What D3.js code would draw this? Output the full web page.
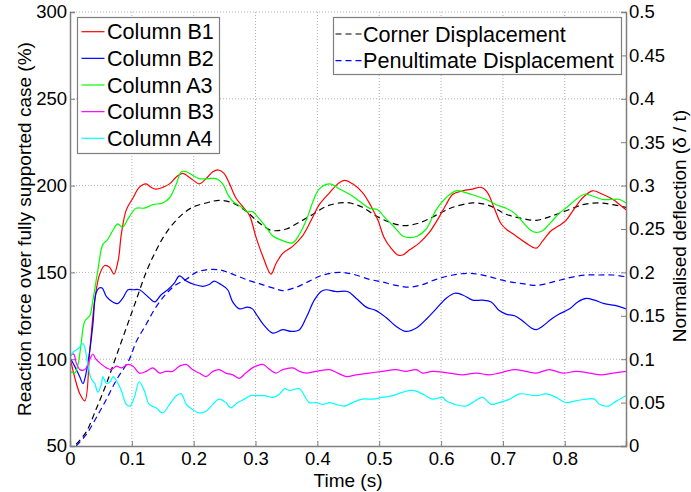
<!DOCTYPE html>
<html><head><meta charset="utf-8">
<script src="https://cdnjs.cloudflare.com/ajax/libs/d3/7.8.5/d3.min.js"></script>
<style>body{margin:0;background:#fff}svg{display:block;font-family:"Liberation Sans",Arial,sans-serif}</style>
</head><body><svg id="c" width="691" height="492"></svg>
<script>
// ---- data ----
const seriesNames = ["Column B1","Column B2","Column A3","Column B3","Column A4"];
const dispNames = ["Corner Displacement","Penultimate Displacement"];
const xTicks = [0,0.1,0.2,0.3,0.4,0.5,0.6,0.7,0.8];
const yLeftTicks = [50,100,150,200,250,300];
const yRightTicks = [0,0.05,0.1,0.15,0.2,0.25,0.3,0.35,0.4,0.45,0.5];

const columnB1 = [[0,101],[0.008,89],[0.016,80],[0.024,76],[0.032,105],[0.04,134],[0.048,149],[0.056,154],[0.064,153],[0.071,149],[0.078,157],[0.083,172],[0.091,186],[0.102,193],[0.112,199],[0.123,201],[0.131,199],[0.139,198],[0.15,199],[0.161,201],[0.172,205],[0.182,207],[0.196,204],[0.209,201],[0.22,204],[0.231,208],[0.24,209],[0.249,207],[0.258,201],[0.268,193],[0.279,188],[0.29,183],[0.301,170],[0.312,159],[0.325,149],[0.333,155],[0.344,161],[0.36,165],[0.376,171],[0.39,180],[0.403,189],[0.42,196],[0.433,201],[0.444,203],[0.457,201],[0.473,196],[0.487,188],[0.498,180],[0.508,170],[0.519,164],[0.53,160],[0.538,160],[0.549,163],[0.565,167],[0.581,173],[0.597,182],[0.608,189],[0.619,195],[0.635,197],[0.651,198],[0.665,199],[0.675,196],[0.686,187],[0.697,178],[0.705,175],[0.721,171],[0.737,167],[0.754,164],[0.764,168],[0.778,174],[0.791,177],[0.802,180],[0.816,187],[0.829,193],[0.845,197],[0.861,195],[0.878,192],[0.889,189],[0.899,186]];
const columnB2 = [[0,101],[0.0075,96],[0.0156,90],[0.021,86],[0.026,92],[0.032,105],[0.037,120],[0.042,138],[0.047,141],[0.052,141],[0.059,136],[0.069,133],[0.077,132],[0.085,135],[0.094,140],[0.102,140],[0.112,140],[0.126,136],[0.137,133],[0.147,137],[0.158,140],[0.169,144],[0.177,148],[0.188,145],[0.201,143],[0.215,142],[0.225,143],[0.233,145],[0.244,143],[0.255,140],[0.263,133],[0.274,129],[0.287,130],[0.295,129],[0.301,126],[0.315,119],[0.328,115],[0.344,117],[0.358,116],[0.371,117],[0.382,124],[0.395,134],[0.406,139],[0.414,140],[0.43,139],[0.449,139],[0.463,135],[0.479,130],[0.495,128],[0.511,124],[0.527,119],[0.543,116],[0.56,118],[0.576,123],[0.592,129],[0.608,135],[0.622,138],[0.635,137],[0.651,134],[0.667,134],[0.681,133],[0.694,128],[0.705,126],[0.719,125],[0.732,122],[0.746,118],[0.754,117],[0.764,119],[0.778,123],[0.791,126],[0.808,129],[0.821,133],[0.835,135],[0.848,134],[0.864,132],[0.881,131],[0.899,129]];
const columnA3 = [[0,93],[0.0075,92],[0.013,97],[0.018,109],[0.024,122],[0.032,125],[0.037,134],[0.045,151],[0.053,166],[0.061,169],[0.069,174],[0.077,178],[0.085,176],[0.094,181],[0.107,187],[0.12,187],[0.134,189],[0.15,190],[0.161,193],[0.172,201],[0.18,208],[0.188,208],[0.198,206],[0.209,204],[0.223,204],[0.236,204],[0.247,201],[0.255,195],[0.263,191],[0.276,188],[0.287,185],[0.295,185],[0.301,183],[0.315,177],[0.328,171],[0.339,169],[0.36,167],[0.371,172],[0.382,180],[0.393,191],[0.403,198],[0.42,201],[0.436,198],[0.452,195],[0.468,191],[0.484,187],[0.498,186],[0.508,182],[0.522,177],[0.538,171],[0.549,170],[0.562,171],[0.576,175],[0.592,186],[0.608,193],[0.624,197],[0.64,196],[0.657,194],[0.673,192],[0.689,189],[0.705,187],[0.719,184],[0.732,179],[0.746,174],[0.754,173],[0.764,174],[0.778,179],[0.791,184],[0.805,188],[0.818,192],[0.832,195],[0.845,194],[0.861,192],[0.875,192],[0.889,192],[0.899,190]];
const columnB3 = [[0,102],[0.006,103],[0.010,98],[0.016,94],[0.024,94],[0.032,100],[0.037,103],[0.042,100],[0.051,97],[0.059,95],[0.067,94],[0.075,96],[0.083,95],[0.094,97],[0.102,96],[0.112,92],[0.123,93],[0.134,95],[0.145,92],[0.155,93],[0.166,93],[0.177,96],[0.188,97],[0.198,94],[0.209,92],[0.22,90],[0.231,93],[0.241,94],[0.252,92],[0.263,91],[0.274,89],[0.284,92],[0.295,95],[0.301,96],[0.312,97],[0.323,94],[0.333,92],[0.344,94],[0.36,95],[0.371,93],[0.382,92],[0.398,93],[0.42,94],[0.433,92],[0.447,90],[0.463,91],[0.484,92],[0.505,93],[0.527,94],[0.543,93],[0.56,94],[0.57,92],[0.586,93],[0.613,92],[0.635,91],[0.657,92],[0.678,91],[0.694,92],[0.719,94],[0.737,93],[0.754,92],[0.775,94],[0.797,92],[0.818,93],[0.84,92],[0.859,91],[0.878,92],[0.899,93]];
const columnA4 = [[0,101],[0.005,104],[0.013,106],[0.021,109],[0.025,105],[0.029,97],[0.034,89],[0.04,86],[0.045,81],[0.051,86],[0.053,90],[0.059,86],[0.065,87],[0.07,90],[0.076,87],[0.083,82],[0.091,74],[0.097,73],[0.104,78],[0.112,87],[0.12,82],[0.128,74],[0.139,72],[0.15,69],[0.161,74],[0.172,79],[0.18,80],[0.188,74],[0.198,71],[0.209,69],[0.22,70],[0.231,74],[0.241,77],[0.252,75],[0.26,72],[0.271,75],[0.282,77],[0.292,79],[0.301,79],[0.315,79],[0.328,78],[0.339,80],[0.347,83],[0.355,82],[0.371,83],[0.379,79],[0.387,75],[0.398,75],[0.409,74],[0.42,75],[0.43,74],[0.444,73],[0.457,75],[0.473,77],[0.49,77],[0.505,78],[0.522,79],[0.538,81],[0.554,82],[0.57,80],[0.586,77],[0.603,78],[0.608,76],[0.622,74],[0.64,73],[0.651,75],[0.667,78],[0.681,74],[0.694,75],[0.711,77],[0.727,80],[0.754,79],[0.77,80],[0.786,78],[0.802,75],[0.818,76],[0.835,77],[0.848,77],[0.856,74],[0.87,73],[0.884,76],[0.899,79]];
const cornerDisp = [[0.01,0.002],[0.026,0.016],[0.042,0.042],[0.059,0.072],[0.075,0.104],[0.091,0.136],[0.107,0.168],[0.123,0.2],[0.139,0.225],[0.155,0.245],[0.177,0.264],[0.198,0.275],[0.22,0.28],[0.241,0.283],[0.263,0.28],[0.284,0.271],[0.306,0.257],[0.323,0.249],[0.333,0.248],[0.35,0.25],[0.371,0.258],[0.393,0.267],[0.414,0.276],[0.436,0.28],[0.452,0.28],[0.473,0.275],[0.495,0.265],[0.516,0.258],[0.538,0.254],[0.56,0.256],[0.581,0.262],[0.603,0.27],[0.619,0.275],[0.651,0.28],[0.678,0.277],[0.705,0.267],[0.732,0.262],[0.754,0.26],[0.775,0.264],[0.802,0.271],[0.829,0.278],[0.856,0.28],[0.878,0.278],[0.899,0.275]];
const penultDisp = [[0.01,0.0],[0.026,0.013],[0.042,0.032],[0.059,0.054],[0.075,0.076],[0.096,0.1],[0.107,0.12],[0.123,0.14],[0.139,0.16],[0.155,0.175],[0.172,0.186],[0.188,0.192],[0.204,0.2],[0.22,0.203],[0.241,0.203],[0.263,0.198],[0.284,0.192],[0.306,0.187],[0.333,0.181],[0.344,0.179],[0.366,0.183],[0.387,0.19],[0.409,0.197],[0.436,0.2],[0.457,0.198],[0.484,0.192],[0.505,0.189],[0.527,0.185],[0.549,0.183],[0.57,0.186],[0.592,0.192],[0.619,0.197],[0.646,0.199],[0.673,0.196],[0.705,0.19],[0.732,0.187],[0.754,0.185],[0.781,0.189],[0.808,0.194],[0.835,0.197],[0.856,0.197],[0.878,0.197],[0.899,0.195]];

const forceSeries = [columnB1, columnB2, columnA3, columnB3, columnA4];
const forceColors = ["#ff0000","#0000ff","#00ff00","#ff00ff","#00ffff"];
const dispSeries = [cornerDisp, penultDisp];
const dispColors = ["#000000","#0000ff"];

// ---- layout ----
const L = 70, R = 626, T = 12, B = 446;
const svg = d3.select("#c");
svg.append("rect").attr("width",691).attr("height",492).attr("fill","#fff");
const x = d3.scaleLinear().domain([0,0.899]).range([L,R]);
const yL = d3.scaleLinear().domain([50,300]).range([B,T]);
const yR = d3.scaleLinear().domain([0,0.5]).range([B,T]);
const axisCol = "#7f7f7f";

// grid
const grid = svg.append("g").attr("stroke","#b0b0b0").attr("stroke-width",1).attr("stroke-dasharray","1,2");
xTicks.filter(d=>d>0).forEach(d=>grid.append("line").attr("x1",x(d)).attr("x2",x(d)).attr("y1",T).attr("y2",B));
yLeftTicks.filter(d=>d>50).forEach(d=>grid.append("line").attr("x1",L).attr("x2",R).attr("y1",yL(d)).attr("y2",yL(d)));

// lines
const line = (ys) => d3.line().x(d=>x(d[0])).y(d=>ys(d[1])).curve(d3.curveCatmullRom.alpha(0.5));
svg.append("clipPath").attr("id","pc").append("rect").attr("x",L).attr("y",T).attr("width",R-L).attr("height",B-T);
const pg = svg.append("g").attr("clip-path","url(#pc)");
dispSeries.forEach((s,i)=>pg.append("path").attr("d",line(yR)(s)).attr("fill","none").attr("stroke",dispColors[i]).attr("stroke-width",1.2).attr("stroke-dasharray","6,4"));
forceSeries.forEach((s,i)=>pg.append("path").attr("d",line(yL)(s)).attr("fill","none").attr("stroke",forceColors[i]).attr("stroke-width",1.2));

// axes
const fs = "18.5px";
const gx = svg.append("g").attr("transform",`translate(0,${B})`).call(d3.axisBottom(x).tickValues(xTicks).tickSize(-5).tickPadding(8).tickFormat(d3.format("")));
const gl = svg.append("g").attr("transform",`translate(${L},0)`).call(d3.axisLeft(yL).tickValues(yLeftTicks).tickSize(-5).tickPadding(3));
const gr = svg.append("g").attr("transform",`translate(${R},0)`).call(d3.axisRight(yR).tickValues(yRightTicks).tickSize(-5).tickPadding(3).tickFormat(d=>d3.format("")(+d.toFixed(2))));
[gx,gl,gr].forEach(g=>{
  g.select(".domain").attr("stroke",axisCol).attr("stroke-width",1.5);
  g.selectAll(".tick line").attr("stroke",axisCol);
  g.selectAll(".tick text").attr("fill","#000").style("font-size",fs).style("font-family","Liberation Sans, Arial, sans-serif");
});
gx.selectAll(".tick text").attr("dy","0.71em").attr("y",6);

// axis labels
svg.append("text").attr("x",348).attr("y",487).attr("text-anchor","middle").style("font-size","19px").text("Time (s)");
svg.append("text").attr("transform",`translate(31,${(T+B)/2}) rotate(-90)`).attr("text-anchor","middle").style("font-size","19px").text("Reaction force over fully supported case (%)");
svg.append("text").attr("transform",`translate(686,${(T+B)/2-3}) rotate(-90)`).attr("text-anchor","middle").style("font-size","19px").text("Normalised deflection (δ / t)");

// legend 1
const lg1 = svg.append("g");
lg1.append("rect").attr("x",77.5).attr("y",17.5).attr("width",142).attr("height",136).attr("fill","#fff").attr("stroke",axisCol).attr("stroke-width",1.2);
seriesNames.forEach((n,i)=>{
  const cy = 31.7 + i*26.65;
  lg1.append("line").attr("x1",81.5).attr("x2",104.5).attr("y1",cy).attr("y2",cy).attr("stroke",forceColors[i]).attr("stroke-width",1.2);
  lg1.append("text").attr("x",107).attr("y",cy).attr("dy","0.36em").style("font-size","21.6px").text(n);
});
// legend 2
const lg2 = svg.append("g");
lg2.append("rect").attr("x",333.5).attr("y",17.5).attr("width",288).attr("height",57).attr("fill","#fff").attr("stroke",axisCol).attr("stroke-width",1.2);
dispNames.forEach((n,i)=>{
  const cy = 34 + i*26.65;
  lg2.append("line").attr("x1",335.5).attr("x2",361.5).attr("y1",cy).attr("y2",cy).attr("stroke",dispColors[i]).attr("stroke-width",1.2).attr("stroke-dasharray","6,4");
  lg2.append("text").attr("x",363).attr("y",cy).attr("dy","0.36em").style("font-size","21.6px").text(n);
});
</script></body></html>
